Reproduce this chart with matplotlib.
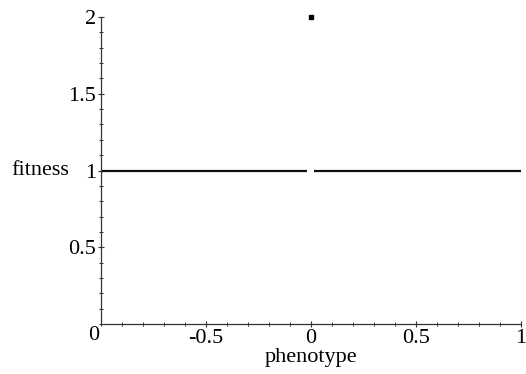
import numpy as np
import matplotlib
matplotlib.use("Agg")
from matplotlib import pyplot as plt
from matplotlib.ticker import MultipleLocator
import matplotlib.transforms as mtransforms

# fitness curve: 1 everywhere except a spike of 2 at phenotype 0
phen_left = [-1.0, -0.02]
fit_left = [1.0, 1.0]
phen_right = [0.015, 1.0]
fit_right = [1.0, 1.0]
peak_x = [0.0]
peak_y = [2.0]

xticks = [-0.5, 0, 0.5, 1]
xlabels = ["-0.5", "0", "0.5", "1"]
yticks = [0.5, 1, 1.5, 2]
ylabels = ["0.5", "1", "1.5", "2"]

plt.rcParams['font.family'] = ['Liberation Serif', 'DejaVu Serif']

fig = plt.figure(figsize=(5.26, 3.74), dpi=100)
ax = fig.add_axes([101/526, 1 - 324/374, 420/526, 307/374])

ax.plot(phen_left, fit_left, color='#111111', lw=1.6, solid_capstyle='butt')
ax.plot(phen_right, fit_right, color='#111111', lw=1.6, solid_capstyle='butt')
ax.plot(peak_x, peak_y, 's', color='black', ms=2.5, clip_on=False)

ax.set_xlim(-1, 1)
ax.set_ylim(0, 2)
for s in ['top', 'right']:
    ax.spines[s].set_visible(False)
for s in ['left', 'bottom']:
    ax.spines[s].set_color('#333333')
    ax.spines[s].set_linewidth(0.9)

ax.set_xticks(xticks)
ax.set_xticklabels(xlabels)
ax.set_yticks(yticks)
ax.set_yticklabels(ylabels)
ax.xaxis.set_minor_locator(MultipleLocator(0.1))
ax.yaxis.set_minor_locator(MultipleLocator(0.1))
ax.tick_params(which='major', direction='inout', length=5, width=0.8, labelsize=16, pad=1, colors='#333333', labelcolor='black')
ax.tick_params(which='minor', direction='inout', length=3, width=0.7, colors='#333333')

# origin label drawn by the original below the corner
ax.text(-1, 0, "0", fontsize=16, ha='right', va='top',
        transform=ax.transData + mtransforms.ScaledTranslation(-0.02, -0.02, fig.dpi_scale_trans))

ax.set_xlabel("phenotype", fontsize=16, labelpad=0)
ax.text(40/526, 1.0, "fitness", fontsize=16, ha='center', va='center',
        transform=mtransforms.blended_transform_factory(fig.transFigure, ax.transData))

fig.savefig("out.png", dpi=100)
